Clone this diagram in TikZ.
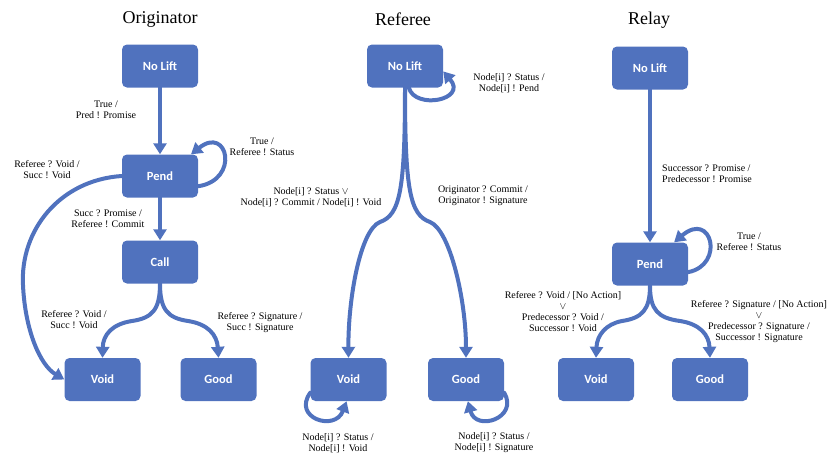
\documentclass[tikz,border=0pt]{standalone}
\usepackage{fontspec}
\setmainfont{Liberation Serif}
\newfontfamily\calib{Carlito}
\usetikzlibrary{arrows.meta}
\definecolor{stateblue}{RGB}{80,114,190}
\begin{document}
\begin{tikzpicture}[x=1pt,y=-1pt, line join=round, line cap=round,
	state/.style={rectangle,rounded corners=5pt,fill=stateblue,text=white,
		minimum width=76pt,minimum height=43pt,font=\calib\bfseries\fontsize{12.5}{14}\selectfont},
	lbl/.style={align=center,inner sep=0pt,font=\fontsize{10}{11}\selectfont},
	ttl/.style={font=\fontsize{18}{20}\selectfont},
	arr/.style={draw=stateblue,line width=4pt,-{Triangle[width=13pt,length=11pt]}}]
\useasboundingbox (0,0) rectangle (836,456);
% titles
\node[ttl] (t-orig) at (160,19) {Originator};
\node[ttl] (t-ref) at (403,19) {Referee};
\node[ttl] (t-relay) at (649,20) {Relay};
% Originator
\node[state] (o-nl) at (160,66) {No Lift};
\node[state] (o-pend) at (160,176) {Pend};
\node[state] (o-call) at (160,262) {Call};
\node[state] (o-void) at (102.5,379.5) {Void};
\node[state] (o-good) at (218.5,379.5) {Good};
\draw[arr] (o-nl) -- (o-pend);
\draw[arr] (o-pend.-15) .. controls (240,180) and (228,125) .. (o-pend.35);
\draw[arr] (o-pend.west) .. controls (60,180) and (20,230) .. (23,285) .. controls (25,330) and (40,365) .. (o-void.west);
\draw[arr] (o-pend) -- (o-call);
\draw[arr] (o-call.south) .. controls (160,310) and (152,318) .. (132,321) .. controls (112,324) and (103,335) .. (o-void.north);
\draw[arr] (o-call.south) .. controls (160,310) and (168,318) .. (188,321) .. controls (208,324) and (217,335) .. (o-good.north);
\node[lbl] (o-l1) at (106,110) {True /\\Pred ! Promise};
\node[lbl] (o-l2) at (262,147) {True /\\Referee ! Status};
\node[lbl] (o-l3) at (47,170) {Referee ? Void /\\Succ ! Void};
\node[lbl] (o-l4) at (108,219) {Succ ? Promise /\\Referee ! Commit};
\node[lbl] (o-l5) at (74,320) {Referee ? Void /\\Succ ! Void};
\node[lbl] (o-l6) at (260,323) {Referee ? Signature /\\Succ ! Signature};
% Referee
\node[state] (f-nl) at (405,66) {No Lift};
\node[state] (f-void) at (348.5,379.5) {Void};
\node[state] (f-good) at (466,379.5) {Good};
\draw[arr] (f-nl.-80) .. controls (415,110) and (468,100) .. (f-nl.-8);
\draw[arr] (f-nl.south) .. controls (405,190) and (400,215) .. (380,222) .. controls (360,230) and (348,300) .. (f-void.north);
\draw[arr] (f-nl.south) .. controls (405,190) and (410,215) .. (430,222) .. controls (450,230) and (466,300) .. (f-good.north);
\draw[arr] (f-void.199) .. controls (292,418) and (335,432) .. (f-void.-95);
\draw[arr] (f-good.-19) .. controls (519,418) and (476,432) .. (f-good.-85);
\node[lbl] (f-l1) at (509,83) {Node[i] ? Status /\\Node[i] ! Pend};
\node[lbl] (f-l2) at (311,197) {Node[i] ? Status $\vee$\\Node[i] ? Commit / Node[i] ! Void};
\node[lbl] (f-l3) at (483,196) {Originator ? Commit /\\Originator ! Signature};
\node[lbl] (f-l4) at (338,443) {Node[i] ? Status /\\Node[i] ! Void};
\node[lbl] (f-l5) at (494,443) {Node[i] ? Status /\\Node[i] ! Signature};
% Relay
\node[state] (r-nl) at (650,68) {No Lift};
\node[state] (r-pend) at (650,264) {Pend};
\node[state] (r-void) at (596,379.5) {Void};
\node[state] (r-good) at (710,379.5) {Good};
\draw[arr] (r-nl) -- (r-pend);
\draw[arr] (r-pend.-12) .. controls (725,265) and (712,210) .. (r-pend.42);
\draw[arr] (r-pend.south) .. controls (650,310) and (642,318) .. (622,321) .. controls (606,324) and (597,335) .. (r-void.north);
\draw[arr] (r-pend.south) .. controls (650,310) and (658,318) .. (680,321) .. controls (700,324) and (709,335) .. (r-good.north);
\node[lbl,anchor=west,align=left] (r-l1) at (662,174) {Successor ? Promise /\\Predecessor ! Promise};
\node[lbl] (r-l2) at (749,242) {True /\\Referee ! Status};
\node[lbl] (r-l3) at (563,312) {Referee ? Void / [No Action]\\$\vee$\\Predecessor ? Void /\\Successor ! Void};
\node[lbl] (r-l4) at (759,322) {Referee ? Signature / [No Action]\\$\vee$\\Predecessor ? Signature /\\Successor ! Signature};
\end{tikzpicture}
\end{document}
